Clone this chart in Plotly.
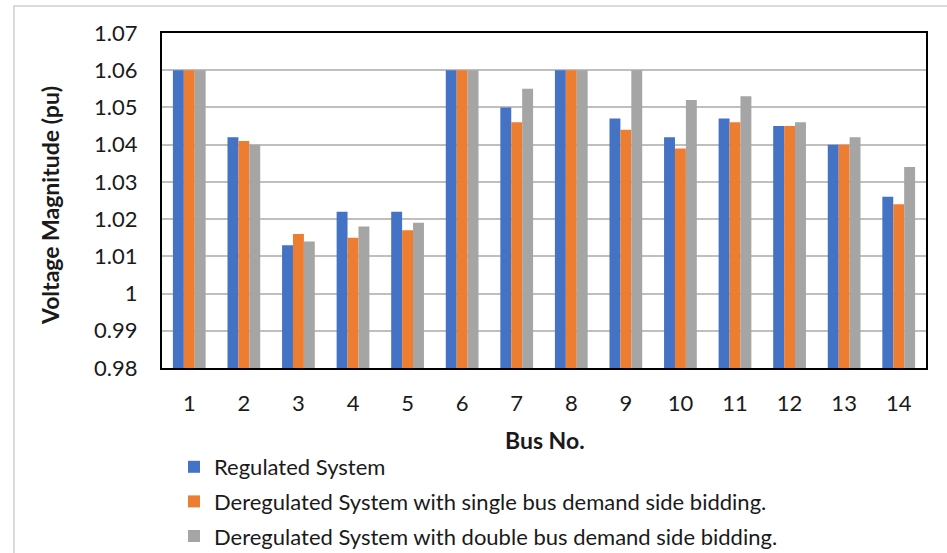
import plotly.graph_objects as go

# Bus numbers of the 14-bus test system
buses = [str(i) for i in range(1, 15)]

# Bus voltage magnitudes (pu) for each operating case
regulated = [1.060, 1.042, 1.013, 1.022, 1.022, 1.060, 1.050,
             1.060, 1.047, 1.042, 1.047, 1.045, 1.040, 1.026]
single_bid = [1.060, 1.041, 1.016, 1.015, 1.017, 1.060, 1.046,
              1.060, 1.044, 1.039, 1.046, 1.045, 1.040, 1.024]
double_bid = [1.060, 1.040, 1.014, 1.018, 1.019, 1.060, 1.055,
              1.060, 1.060, 1.052, 1.053, 1.046, 1.042, 1.034]

series_names = [
    "Regulated System",
    "Deregulated System with single bus demand side bidding.",
    "Deregulated System with double bus demand side bidding.",
]
series_colors = ["#4472C4", "#ED7D31", "#A5A5A5"]
y_ticks = [0.98, 0.99, 1.00, 1.01, 1.02, 1.03, 1.04, 1.05, 1.06, 1.07]
y_tick_text = ["0.98", "0.99", "1", "1.01", "1.02", "1.03", "1.04", "1.05", "1.06", "1.07"]

FONT = "Lato"
W, H = 947, 553
ML, MR, MT, MB = 162, 21, 33, 185
PW, PH = W - ML - MR, H - MT - MB


def px_x(x):
    return (x - ML) / PW


def px_y(y):
    return (H - MB - y) / PH


fig = go.Figure()
for i, (name, vals, col) in enumerate(zip(series_names,
                                          [regulated, single_bid, double_bid],
                                          series_colors)):
    fig.add_trace(go.Bar(
        x=buses, y=vals, name=name, legendgroup=f"g{i}",
        marker=dict(color=col, line=dict(width=0)),
    ))

fig.update_layout(
    width=W, height=H,
    margin=dict(l=ML, r=MR, t=MT, b=MB, autoexpand=False),
    paper_bgcolor="white", plot_bgcolor="white",
    barmode="group", bargap=0.4, bargroupgap=0,
    font=dict(family=FONT, color="#1a1a1a"),
    showlegend=True,
    legend=dict(
        xref="container", yref="container",
        x=174 / W, y=1 - 446 / H, xanchor="left", yanchor="top",
        orientation="v", font=dict(size=22, family=FONT, color="#1a1a1a"),
        tracegroupgap=3, itemwidth=30, bgcolor="rgba(0,0,0,0)",
    ),
    xaxis=dict(
        type="category", showgrid=False, zeroline=False,
        showline=True, linecolor="#000000", linewidth=2, mirror=True,
        ticks="", ticklabelstandoff=15,
        tickfont=dict(size=22, family=FONT, color="#1a1a1a"),
    ),
    yaxis=dict(
        range=[0.98, 1.07], tickvals=y_ticks, ticktext=y_tick_text,
        showgrid=True, gridcolor="#BFBFBF", gridwidth=1.5, zeroline=False,
        showline=True, linecolor="#000000", linewidth=2, mirror=True,
        ticks="", ticklabelstandoff=18,
        tickfont=dict(size=22, family=FONT, color="#1a1a1a"),
    ),
    annotations=[
        dict(text="<b>Voltage Magnitude (pu)</b>", textangle=-90,
             xref="paper", yref="paper", x=px_x(50), y=px_y(206),
             xanchor="center", yanchor="middle", showarrow=False,
             font=dict(size=23, family=FONT, color="#1a1a1a")),
        dict(text="<b>Bus No.</b>",
             xref="paper", yref="paper", x=px_x(545), y=px_y(440),
             xanchor="center", yanchor="middle", showarrow=False,
             font=dict(size=23, family=FONT, color="#1a1a1a")),
    ],
    shapes=[
        dict(type="rect", xref="paper", yref="paper",
             x0=px_x(14), x1=px_x(960), y0=px_y(600), y1=px_y(6),
             line=dict(color="#D0D0D0", width=1.5), fillcolor="rgba(0,0,0,0)",
             layer="below"),
    ],
)

fig.write_html("out.html")
